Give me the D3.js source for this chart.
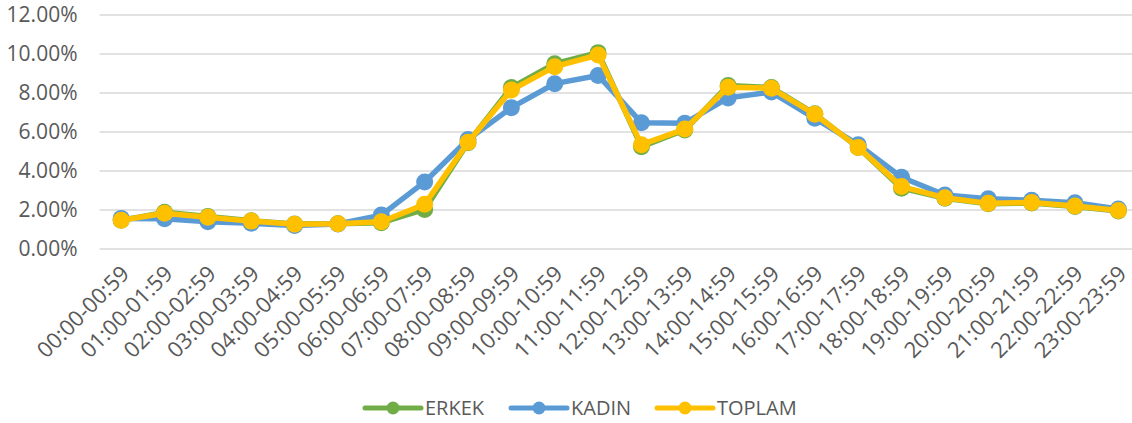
<!DOCTYPE html>
<html>
<head>
<meta charset="utf-8">
<script src="https://cdn.jsdelivr.net/npm/d3@7"></script>
<style>
  html, body { margin: 0; padding: 0; background: #fff; }
  svg { display: block; font-family: "Open Sans", sans-serif; }
</style>
</head>
<body>
<svg id="svg" width="1132" height="423"></svg>
<script>
const hours = ["00:00-00:59", "01:00-01:59", "02:00-02:59", "03:00-03:59", "04:00-04:59",
  "05:00-05:59", "06:00-06:59", "07:00-07:59", "08:00-08:59", "09:00-09:59",
  "10:00-10:59", "11:00-11:59", "12:00-12:59", "13:00-13:59", "14:00-14:59",
  "15:00-15:59", "16:00-16:59", "17:00-17:59", "18:00-18:59", "19:00-19:59",
  "20:00-20:59", "21:00-21:59", "22:00-22:59", "23:00-23:59"];

const erkek = [1.47, 1.88, 1.67, 1.45, 1.28, 1.30, 1.35, 2.03, 5.45, 8.28, 9.50, 10.07,
  5.25, 6.10, 8.39, 8.28, 6.93, 5.20, 3.12, 2.60, 2.32, 2.36, 2.18, 1.95];
const kadin = [1.57, 1.55, 1.40, 1.32, 1.21, 1.28, 1.74, 3.44, 5.62, 7.25, 8.48, 8.90,
  6.48, 6.45, 7.75, 8.05, 6.70, 5.35, 3.68, 2.77, 2.58, 2.50, 2.37, 2.05];
const toplam = [1.47, 1.83, 1.63, 1.43, 1.27, 1.30, 1.40, 2.29, 5.47, 8.15, 9.35, 9.95,
  5.35, 6.15, 8.30, 8.24, 6.91, 5.21, 3.20, 2.63, 2.34, 2.38, 2.20, 1.97];

const yTicks = [0, 2, 4, 6, 8, 10, 12];

const series = [
  { name: "ERKEK", values: erkek, color: "#70AD47" },
  { name: "KADIN", values: kadin, color: "#5B9BD5" },
  { name: "TOPLAM", values: toplam, color: "#FFC000" }
];

const svg = d3.select("#svg");
const plotLeft = 99.5, plotRight = 1140, plotTop = 15, plotBottom = 249;

const x = d3.scalePoint().domain(hours).range([plotLeft, plotRight]).padding(0.5);
const y = d3.scaleLinear().domain([0, 12]).range([plotBottom, plotTop]);

// gridlines
svg.append("g")
  .selectAll("line")
  .data(yTicks)
  .enter().append("line")
  .attr("x1", plotLeft).attr("x2", plotRight)
  .attr("y1", d => y(d)).attr("y2", d => y(d))
  .attr("stroke", "#D9D9D9").attr("stroke-width", 1.5);

// y axis labels
const yAxis = svg.append("g")
  .attr("transform", "translate(" + plotLeft + ",0)")
  .call(d3.axisLeft(y).tickValues(yTicks).tickSize(0).tickPadding(22)
    .tickFormat(d => d.toFixed(2) + "%"));
yAxis.select(".domain").remove();
yAxis.selectAll("text")
  .attr("fill", "#595959").style("font-size", "21px")
  .style("font-family", "'Open Sans', sans-serif");

// x axis labels
const xAxis = svg.append("g")
  .attr("transform", "translate(0," + plotBottom + ")")
  .call(d3.axisBottom(x).tickSize(0));
xAxis.select(".domain").remove();
xAxis.selectAll("text")
  .attr("fill", "#595959").style("font-size", "22px")
  .style("font-family", "'Open Sans', sans-serif")
  .attr("text-anchor", "end")
  .attr("dy", null).attr("y", 0)
  .attr("transform", "translate(9,26) rotate(-45)");

// series
const line = d3.line().x((d, i) => x(hours[i])).y(d => y(d));
series.forEach(s => {
  const g = svg.append("g");
  g.append("path")
    .datum(s.values)
    .attr("fill", "none")
    .attr("stroke", s.color)
    .attr("stroke-width", 5.5)
    .attr("stroke-linejoin", "round")
    .attr("d", line);
  g.selectAll("circle")
    .data(s.values)
    .enter().append("circle")
    .attr("cx", (d, i) => x(hours[i]))
    .attr("cy", d => y(d))
    .attr("r", 8.5)
    .attr("fill", s.color);
});

// legend
const legendX = [365, 511, 657];
const legend = svg.append("g");
series.forEach((s, i) => {
  const lg = legend.append("g").attr("transform", "translate(" + legendX[i] + ",408)");
  lg.append("line").attr("x1", 0).attr("x2", 56).attr("y1", 0).attr("y2", 0)
    .attr("stroke", s.color).attr("stroke-width", 5).attr("stroke-linecap", "round");
  lg.append("circle").attr("cx", 28).attr("cy", 0).attr("r", 6.5).attr("fill", s.color);
  lg.append("text").attr("x", 60).attr("y", 7)
    .attr("fill", "#595959").style("font-size", "20px").text(s.name);
});
</script>
</body>
</html>
